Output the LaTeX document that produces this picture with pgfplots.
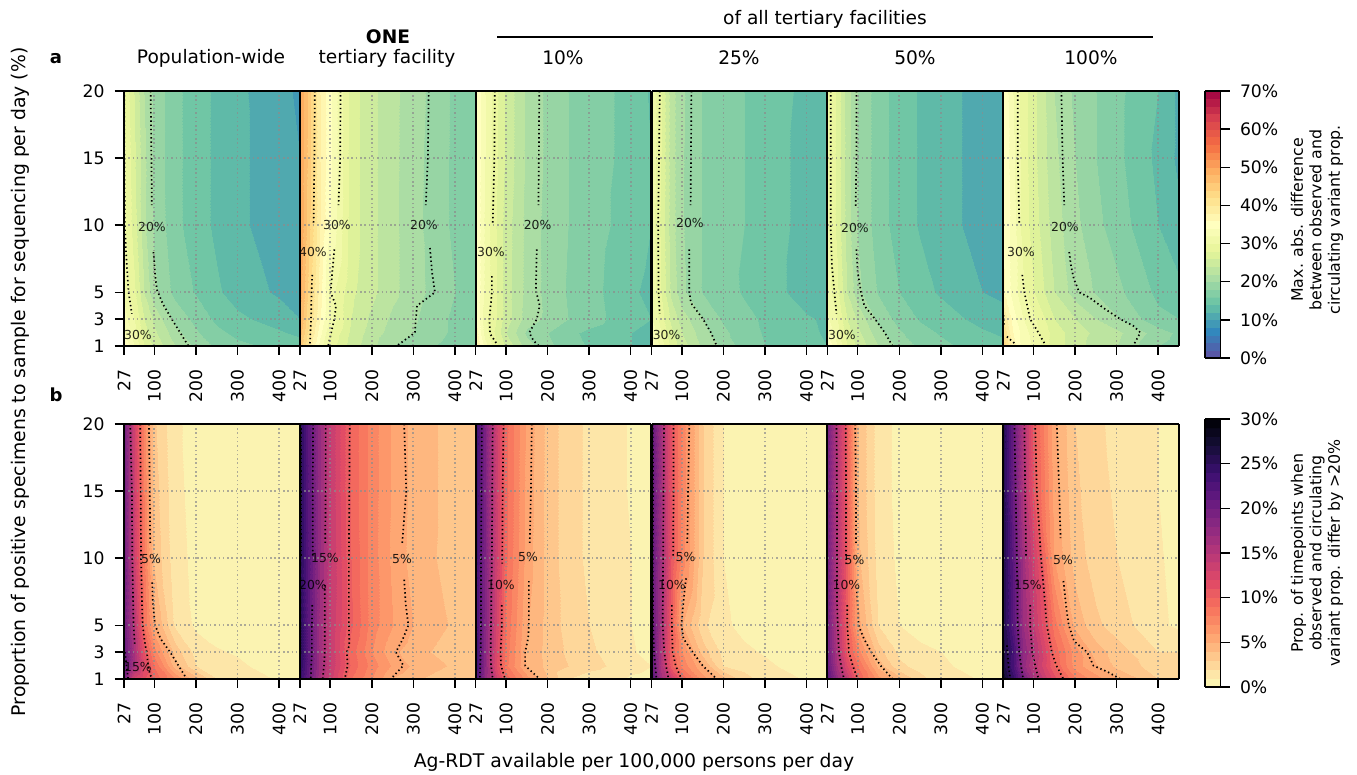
\documentclass[border=0pt]{standalone}
\usepackage{fontspec}
\setmainfont{DejaVu Sans}
\usepackage{pgfplots}
\usepackage{pgfplotstable}
\pgfplotsset{compat=1.18}
\pgfplotsset{colormap={spec}{
rgb255(0pt)=(88,87,166);rgb255(99pt)=(88,87,166);rgb255(100pt)=(75,103,174);rgb255(199pt)=(75,103,174);rgb255(200pt)=(63,120,181);rgb255(299pt)=(63,120,181);rgb255(300pt)=(50,136,189);rgb255(399pt)=(50,136,189);rgb255(400pt)=(65,153,182);rgb255(499pt)=(65,153,182);rgb255(500pt)=(80,169,175);rgb255(599pt)=(80,169,175);rgb255(600pt)=(95,186,168);rgb255(699pt)=(95,186,168);rgb255(700pt)=(112,198,165);rgb255(799pt)=(112,198,165);rgb255(800pt)=(132,206,165);rgb255(899pt)=(132,206,165);rgb255(900pt)=(151,213,164);rgb255(999pt)=(151,213,164);rgb255(1000pt)=(171,221,164);rgb255(1099pt)=(171,221,164);rgb255(1100pt)=(188,228,160);rgb255(1199pt)=(188,228,160);rgb255(1200pt)=(205,235,157);rgb255(1299pt)=(205,235,157);rgb255(1300pt)=(222,242,154);rgb255(1399pt)=(222,242,154);rgb255(1400pt)=(234,246,158);rgb255(1499pt)=(234,246,158);rgb255(1500pt)=(241,249,169);rgb255(1599pt)=(241,249,169);rgb255(1600pt)=(248,252,180);rgb255(1699pt)=(248,252,180);rgb255(1700pt)=(255,255,191);rgb255(1799pt)=(255,255,191);rgb255(1800pt)=(255,246,176);rgb255(1899pt)=(255,246,176);rgb255(1900pt)=(254,237,161);rgb255(1999pt)=(254,237,161);rgb255(2000pt)=(254,228,146);rgb255(2099pt)=(254,228,146);rgb255(2100pt)=(254,217,133);rgb255(2199pt)=(254,217,133);rgb255(2200pt)=(254,203,121);rgb255(2299pt)=(254,203,121);rgb255(2300pt)=(253,188,109);rgb255(2399pt)=(253,188,109);rgb255(2400pt)=(253,174,97);rgb255(2499pt)=(253,174,97);rgb255(2500pt)=(250,155,88);rgb255(2599pt)=(250,155,88);rgb255(2600pt)=(248,137,79);rgb255(2699pt)=(248,137,79);rgb255(2700pt)=(245,118,71);rgb255(2799pt)=(245,118,71);rgb255(2800pt)=(240,102,69);rgb255(2899pt)=(240,102,69);rgb255(2900pt)=(231,89,72);rgb255(2999pt)=(231,89,72);rgb255(3000pt)=(222,76,76);rgb255(3099pt)=(222,76,76);rgb255(3100pt)=(213,62,79);rgb255(3199pt)=(213,62,79);rgb255(3200pt)=(197,45,75);rgb255(3299pt)=(197,45,75);rgb255(3300pt)=(182,27,71);rgb255(3399pt)=(182,27,71);rgb255(3400pt)=(166,10,68);rgb255(3500pt)=(166,10,68)}}
\pgfplotsset{colormap={mag}{
rgb255(0pt)=(251,243,177);rgb255(99pt)=(251,243,177);rgb255(100pt)=(253,230,168);rgb255(199pt)=(253,230,168);rgb255(200pt)=(254,215,154);rgb255(299pt)=(254,215,154);rgb255(300pt)=(254,199,140);rgb255(399pt)=(254,199,140);rgb255(400pt)=(254,183,127);rgb255(499pt)=(254,183,127);rgb255(500pt)=(254,167,115);rgb255(599pt)=(254,167,115);rgb255(600pt)=(253,151,106);rgb255(699pt)=(253,151,106);rgb255(700pt)=(250,135,100);rgb255(799pt)=(250,135,100);rgb255(800pt)=(248,120,95);rgb255(899pt)=(248,120,95);rgb255(900pt)=(243,105,94);rgb255(999pt)=(243,105,94);rgb255(1000pt)=(234,92,98);rgb255(1099pt)=(234,92,98);rgb255(1100pt)=(226,76,101);rgb255(1199pt)=(226,76,101);rgb255(1200pt)=(215,70,107);rgb255(1299pt)=(215,70,107);rgb255(1300pt)=(202,64,112);rgb255(1399pt)=(202,64,112);rgb255(1400pt)=(189,58,118);rgb255(1499pt)=(189,58,118);rgb255(1500pt)=(176,53,122);rgb255(1599pt)=(176,53,122);rgb255(1600pt)=(161,48,125);rgb255(1699pt)=(161,48,125);rgb255(1700pt)=(147,43,128);rgb255(1799pt)=(147,43,128);rgb255(1800pt)=(133,39,129);rgb255(1899pt)=(133,39,129);rgb255(1900pt)=(120,33,128);rgb255(1999pt)=(120,33,128);rgb255(2000pt)=(107,28,128);rgb255(2099pt)=(107,28,128);rgb255(2100pt)=(93,24,125);rgb255(2199pt)=(93,24,125);rgb255(2200pt)=(80,20,120);rgb255(2299pt)=(80,20,120);rgb255(2300pt)=(66,17,115);rgb255(2399pt)=(66,17,115);rgb255(2400pt)=(52,15,102);rgb255(2499pt)=(52,15,102);rgb255(2500pt)=(40,14,83);rgb255(2599pt)=(40,14,83);rgb255(2600pt)=(27,14,64);rgb255(2699pt)=(27,14,64);rgb255(2700pt)=(17,12,46);rgb255(2799pt)=(17,12,46);rgb255(2800pt)=(10,7,29);rgb255(2899pt)=(10,7,29);rgb255(2900pt)=(3,2,12);rgb255(3000pt)=(3,2,12)}}
\pgfplotstableread{
x y a1 a2 a3 a4 a5 a6 b1 b2 b3 b4 b5 b6
27 1 36 46 38 35 36 44 20 24.5 23 22 22 28
50 1 32 39 33 31 32 37 12.5 20.5 17.5 16.5 17.5 24.5
75 1 28 33 28.5 27.5 28 33 11 16 13.5 13.5 14 20
100 1 25.5 29 25.5 25 25.5 31.5 9.8 13.5 9.7 10 10 16
150 1 22 25 21 21.5 22 27 7 9 6.5 6.5 6.5 11.5
200 1 19.5 22.5 18.5 19.5 19.5 25 4.5 7 4 4.5 4.5 8.2
250 1 17.5 20 16.8 17 17.5 23 2 4.9 2 2.5 2.3 6.5
300 1 16.5 19 15.8 16 16.5 22 1.5 4.2 1.4 1.5 1.5 5.2
400 1 15.5 17 14 14.5 15 18 0.9 3.2 0.8 0.9 0.9 3
450 1 15 16.5 13.5 14 14.5 17 0.2 3 0.6 0.3 0.2 2.5
27 2 34 47 37 33.5 34 42 21 25 24 21 21 26.5
50 2 31 41 31 30 31 36 16 21 18 15.5 16 23
75 2 27 34.5 27.5 26.5 27 33 12 16.5 12 10.5 12 17.5
100 2 24.5 30 24 24 24.5 31 9 14 8.3 7.7 9 14.7
150 2 20.8 25.5 19.5 20.8 20.8 27 4.5 9.7 4.8 5 4.7 10
200 2 18.3 23 18 18.5 18.3 25 2 7.5 3.7 2 2.2 6.5
250 2 16.5 21 16.5 16.8 16.7 23.5 1.5 5.8 3 1.6 1.7 5.1
300 2 15.5 20 15.5 15.8 15.8 22.5 1.2 4.8 2.4 1.2 1.2 3.7
400 2 14.3 17.5 14 14.3 14.3 19 0.5 3.8 1.4 0.5 0.5 2.5
450 2 13.5 16.5 13.5 13.8 13.7 17.5 0.2 3.1 1 0.2 0.2 2.5
27 3 33 48 36 32 32.5 40 21 25.5 24 21 20.5 26.5
50 3 30 42 30.5 29 30 35 16 21 18 15.5 15.5 23.5
75 3 26 36 28 25.5 26 32 11 16.5 12.5 10 10.5 18
100 3 23.5 31.5 25 23 23.5 30.3 7.5 14 8.5 7 7.5 15.3
150 3 19.5 26 21 20 19.5 26 3.6 9.5 4.8 3.5 3.5 9.7
200 3 17.3 23.5 19.5 17.7 17.2 24 1.6 7 3.6 1.7 1.8 6.5
250 3 15.5 21.5 18 16.5 15.8 22 1.1 5.2 2.8 1.2 1.3 4.5
300 3 14.5 20.3 17 15.7 15 20.2 0.9 4.5 2.2 0.9 1 3.5
400 3 13 17.5 14.5 14.2 13.3 16.5 0.3 3.3 1.1 0.3 0.3 2
450 3 12 16.5 14 13.7 12.8 16 0.2 3 0.7 0.2 0.2 2
27 5 31.5 49 36 31.5 31 36.5 20 25.5 23.5 21 20 26
50 5 28.5 43 31.5 28 28.5 33 15 21 18.5 16 15 22
75 5 24 37 28 23.5 24 30.5 9 16.5 13 10.3 10 17
100 5 20.5 31 25 20.5 20.5 28 5.3 14 8.8 5.1 5.4 14
150 5 17.3 26.5 21.3 17.8 17.8 24 1.8 10.2 5.1 2.2 2 8.5
200 5 15.8 24.5 19.3 16.7 16 21 0.8 7.5 3.6 1.2 1 4.7
250 5 14.3 22.5 17.8 15.8 14.7 19.8 0.5 6 2.6 0.7 0.5 3.2
300 5 13 20.8 16.8 15 13.7 18.5 0.4 5 2 0.5 0.4 2.5
400 5 11.7 18 14.3 13 12 15.5 0.3 3.8 1 0.3 0.2 1.2
450 5 11 17 13.5 12.8 11.5 14.5 0.2 3.4 0.6 0.2 0.2 0.8
27 10 30.5 50 36 31 30.3 36 20 25.5 23.5 21 20 26
50 10 27 44.5 31.5 27.5 27.5 33 13.5 21.5 19 16.5 15 21.5
75 10 22.5 38 28 23 23 29 8.2 17 13.5 11 10.2 16.5
100 10 19.7 34 25 20.2 19.8 27 3.8 14.2 9.2 7.6 4.3 13
150 10 16.5 27 21.3 17.8 17 23 1.4 10 5.5 3 1.6 6
200 10 15 24.5 19.3 16.5 15 20.5 0.7 7.5 3.6 1 0.8 3.5
250 10 13.5 22.5 18 16 13.8 18.5 0.4 5.7 2.4 0.6 0.4 2.5
300 10 12.4 20.7 17 15 12.8 17 0.3 4.6 1.8 0.4 0.3 2
400 10 11 17.5 15 13.3 11.2 14 0.2 3.5 1 0.3 0.2 1.1
450 10 10.4 16.5 14 12.8 10.6 12.5 0.2 3.2 0.6 0.2 0.2 0.7
27 15 30.5 50 36 31.5 30.3 36 20 25.5 24 21 20 26
50 15 26.5 45 32 28 27.5 32.5 13.5 21.5 19 16.5 15 20.5
75 15 22.5 38 28.5 23 23 29 8 17 13.5 11 10.2 15.5
100 15 19.5 34.5 25.5 20.2 19.8 26.5 3.5 14 9.3 7.7 4 10.7
150 15 16.5 27 21.5 17.8 17 22.5 1.3 9.8 5.6 3 1.5 5.6
200 15 15 24.5 19.5 16.5 15 20 0.6 7.5 3.6 1 0.7 3.2
250 15 13.5 22.5 18 16 13.8 18 0.4 5.8 2.4 0.6 0.4 2.4
300 15 12.4 20.8 17 15 12.8 16.5 0.3 4.7 1.8 0.4 0.3 1.8
400 15 11 17.5 15.3 13.3 11.2 13.5 0.2 3.5 0.9 0.3 0.2 1
450 15 10 16.5 14 12.8 10.6 11.5 0.2 3.2 0.6 0.2 0.2 0.6
27 20 30 50 36 31.5 30.3 36 20 25.5 24 21 20 26
50 20 26 45 32 28 27.5 32 13 21.5 19 16.5 15 20.5
75 20 22 38 28.5 23 23 29 7.6 17 13.5 11 10.2 15.5
100 20 19.5 34.5 25.5 20.3 19.8 26.5 3.2 14 9.3 7.7 4 10.4
150 20 16.5 27 21.5 17.8 17 22 1.2 9.8 5.7 3 1.5 5.3
200 20 15 24.5 19.5 16.5 15 19.5 0.6 7.5 3.6 1 0.7 3
250 20 13.5 22.5 18 16 13.8 18 0.4 5.8 2.4 0.6 0.4 2.2
300 20 12.4 21 17 15 12.8 16.5 0.3 4.7 1.8 0.4 0.3 1.7
400 20 10.8 17.5 15.3 13.5 11.2 14 0.2 3.5 0.9 0.3 0.2 1
450 20 9.5 16.5 13.7 13 10.4 11.5 0.2 3.2 0.6 0.2 0.2 0.6
}\griddata
\newcommand{\tickfont}{\fontsize{8.6}{10}\selectfont}
\newcommand{\labelfont}{\fontsize{9.4}{11}\selectfont}
\pgfplotsset{
 panel/.style={scale only axis,width=87.92pt,height=127.5pt,anchor=south west,view={0}{90},
  xmin=27,xmax=450,ymin=1,ymax=20,zmin=0,zmax=100,
  xtick={27,100,200,300,400},xticklabels={27,100,200,300,400},
  ytick={1,3,5,10,15,20},yticklabels={},
  grid=major,grid style={black!45,opacity=.7,line width=.85pt,dash pattern=on .75pt off 1.4pt},
  axis on top,axis line style={black,line width=1pt},
  tick align=outside,xtick pos=left,ytick pos=left,major tick length=4.5pt,
  tick style={black,line width=.75pt},y tick style={draw=none},
  tick label style={font=\tickfont},
  x tick label style={rotate=90,anchor=east,inner sep=1pt,xshift=-6pt},
  y tick label style={inner sep=1pt,xshift=-4pt},
 },
 first/.style={yticklabels={1,3,5,10,15,20},y tick style={draw=black,line width=.75pt}},
 pa/.style={panel,colormap name=spec,point meta min=0,point meta max=70},
 pb/.style={panel,colormap name=mag,point meta min=0,point meta max=30},
 cnt/.style={black,line width=.85pt,dash pattern=on .7pt off 1.4pt},
 cbar/.style={scale only axis,width=7.8pt,anchor=south west,view={0}{90},xmin=0,xmax=1,xtick=\empty,
  axis line style={black,line width=.75pt},tick align=outside,ytick pos=right,yticklabel pos=right,
  major tick length=4.5pt,tick style={black,line width=.75pt},tick label style={font=\tickfont,inner sep=1pt,xshift=4pt}},
}
\newcommand{\surfc}[1]{\addplot3[surf,shader=interp,mesh/cols=10,mesh/ordering=x varies] table[x=x,y=y,z=#1]{\griddata};}
\newcommand{\lab}[3]{\node[font=\fontsize{6.2}{7}\selectfont,inner sep=0pt,text=black,opacity=.85] at (#1,#2) {#3};}
\begin{document}
\begin{tikzpicture}
\path[use as bounding box] (0,0) rectangle (678.5pt,387.5pt);
% row a
\begin{axis}[pa,first,at={(62pt,214.5pt)}]
\surfc{a1}
\addplot[cnt] coordinates {(27.5,20)(28,15)(29,10)(32,8)(38,5)(46,3.4)};
\addplot[cnt] coordinates {(91,20)(93,15)(94,11.5)};
\addplot[cnt] coordinates {(98,8)(102,6.3)(106,5.2)(121,4.1)(142,3)(182,1)};
\end{axis}
\begin{axis}[pa,at={(149.92pt,214.5pt)}]
\surfc{a2}
\addplot[cnt] coordinates {(63,20)(62,15)(60,10)};
\addplot[cnt] coordinates {(57,6.3)(55,5)(54,3)(51,1)};
\addplot[cnt] coordinates {(125,20)(124,15)(120,11.5)};
\addplot[cnt] coordinates {(110,8.2)(105,6.5)(101,5)(114,4)(110,3)(95,1)};
\addplot[cnt] coordinates {(337,20)(335,15)(330,11.5)};
\addplot[cnt] coordinates {(340,8.3)(345,6.5)(352,5)(309,4)(306,3)(304,2)(260,1)};
\end{axis}
\begin{axis}[pa,at={(237.83pt,214.5pt)}]
\surfc{a3}
\addplot[cnt] coordinates {(73,20)(72,15)(68,10)};
\addplot[cnt] coordinates {(66,6.2)(66,5)(60,3)(62,1.9)(77,1.2)};
\addplot[cnt] coordinates {(180,20)(179,15)(178,11.5)};
\addplot[cnt] coordinates {(174,8.2)(172,5.5)(173,5)(181,4)(174,3)(156,2)(166,1.4)(179,1)};
\end{axis}
\begin{axis}[pa,at={(325.75pt,214.5pt)}]
\surfc{a4}
\addplot[cnt] coordinates {(47,20)(45,15)(43,10)(44,5)(47,3.4)};
\addplot[cnt] coordinates {(123,20)(122,15)(121,11.5)};
\addplot[cnt] coordinates {(118,8.2)(118,5)(122,4.2)(151,3)(170,2)(184,1)};
\end{axis}
\begin{axis}[pa,at={(413.67pt,214.5pt)}]
\surfc{a5}
\addplot[cnt] coordinates {(35,20)(35,15)(35,10)(38,7)(44,5)(49,3.4)};
\addplot[cnt] coordinates {(97,20)(97,15)(95,11.3)};
\addplot[cnt] coordinates {(97,8.2)(100,6.5)(108,5)(116,4)(142,3)(165,2)(184,1)};
\end{axis}
\begin{axis}[pa,at={(501.58pt,214.5pt)}]
\surfc{a6}
\addplot[cnt] coordinates {(62,20)(62,15)(66,10)};
\addplot[cnt] coordinates {(73,6.3)(78,5)(85,4)(92,3)(108,2.2)(130,1)};
\addplot[cnt] coordinates {(28,3.3)(29,2.6)};
\addplot[cnt] coordinates {(36,1.7)(58,1.1)};
\addplot[cnt] coordinates {(167,20)(170,15)(174,11.5)};
\addplot[cnt] coordinates {(186,8)(190,7)(197,6)(210,5)(235,4.6)(270,3.8)(309,3)(340,2.5)(357,2)(343,1.2)};
\end{axis}
% row b
\begin{axis}[pb,first,at={(62pt,48pt)}]
\surfc{b1}
\addplot[cnt] coordinates {(42,20)(46,15)(47,10)(50,5)(53,3.5)};
\addplot[cnt] coordinates {(29,3)(37,1)};
\addplot[cnt] coordinates {(66,20)(67,15)(68,10)(70,7)(72,5)(78,3.5)(82,3)(85,2)(90,1.3)(96,1)};
\addplot[cnt] coordinates {(87,20)(89,15)(90,11)};
\addplot[cnt] coordinates {(95,8.2)(96,7)(100,5.5)(102,5)(115,4)(138,3)(158,2)(178,1)};
\end{axis}
\begin{axis}[pb,at={(149.92pt,48pt)}]
\surfc{b2}
\addplot[cnt] coordinates {(29,20)(29,15)(29,10)};
\addplot[cnt] coordinates {(59,20)(58,15)(58,10)};
\addplot[cnt] coordinates {(57,6.5)(56,5)(56,3)(53,1)};
\addplot[cnt] coordinates {(89,20)(89,15)(88,11)};
\addplot[cnt] coordinates {(87,8)(87,5)(87,3)(85,2)(82,1)};
\addplot[cnt] coordinates {(147,20)(146,15)(145,10)(145,5)(146,3.5)(140,3)(142,2)(135,1)};
\addplot[cnt] coordinates {(278,20)(283,15)(273,11)};
\addplot[cnt] coordinates {(278,8.4)(282,6.5)(288,5)(275,4)(258,3)(276,2)(246,1)};
\end{axis}
\begin{axis}[pb,at={(237.83pt,48pt)}]
\surfc{b3}
\addplot[cnt] coordinates {(42,20)(41,15)(40,10)(40,5)(39,3)(37,1)};
\addplot[cnt] coordinates {(68,20)(67,15)(66,10)(65,8)(64,5)(63,3)(64,2)(68,1)};
\addplot[cnt] coordinates {(94,20)(92,15)(91,9.6)};
\addplot[cnt] coordinates {(90,6.5)(90,5)(87,3)(88,2)(98,1)};
\addplot[cnt] coordinates {(162,20)(160,15)(157,11)};
\addplot[cnt] coordinates {(155,8.3)(155,5)(153,4)(146,3)(146,2)(160,1.6)(181,1)};
\end{axis}
\begin{axis}[pb,at={(325.75pt,48pt)}]
\surfc{b4}
\addplot[cnt] coordinates {(30,20)(31,15)(30,10)(31,5)(33,3)(39,1)};
\addplot[cnt] coordinates {(57,20)(55,10)(54,5)(58,3)(62,2)(68,1)};
\addplot[cnt] coordinates {(80,20)(80,15)(79,10)};
\addplot[cnt] coordinates {(76,6.5)(76,5)(78,3)(85,2)(99,1)};
\addplot[cnt] coordinates {(118,20)(115,15)(113,11)};
\addplot[cnt] coordinates {(110,8.5)(103,6.5)(99,5)(104,4)(126,3)(150,2)(184,1)};
\end{axis}
\begin{axis}[pb,at={(413.67pt,48pt)}]
\surfc{b5}
\addplot[cnt] coordinates {(49,20)(50,15)(50,10)(50,7)(52,5)(55,3)(60,2)(67,1)};
\addplot[cnt] coordinates {(71,20)(72,15)(72,10)(73,9.5)};
\addplot[cnt] coordinates {(75,6.5)(75,5)(79,3)(88,2)(100,1)};
\addplot[cnt] coordinates {(94,20)(96,15)(96,11)};
\addplot[cnt] coordinates {(98,7.5)(101,6)(102,5)(115,4)(133,3)(155,2)(184,1)};
\end{axis}
\begin{axis}[pb,at={(501.58pt,48pt)}]
\surfc{b6}
\addplot[cnt] coordinates {(36,3.5)(40,2)(44,1)};
\addplot[cnt] coordinates {(54,20)(57,15)(60,10)(61,8)(62,5)(66,3)(70,2)(75,1)};
\addplot[cnt] coordinates {(78,20)(80,15)(82,10)};
\addplot[cnt] coordinates {(92,6.5)(92,5)(97,3)(104,2)(112,1)};
\addplot[cnt] coordinates {(104,20)(108,15)(118,10)(124,8)(132,5)(144,3)(155,2)(172,1)};
\addplot[cnt] coordinates {(156,20)(162,15)(165,11.5)};
\addplot[cnt] coordinates {(172,8.3)(180,6)(185,5)(198,3.8)(229,3)(244,2)(280,1.5)(309,1)};
\end{axis}
% colourbars
\begin{axis}[cbar,height=133.5pt,at={(602.5pt,208.5pt)},ymin=0,ymax=70,colormap name=spec,point meta min=0,point meta max=70,
  ytick={0,10,20,30,40,50,60,70},yticklabels={0\%,10\%,20\%,30\%,40\%,50\%,60\%,70\%}]
\addplot3[surf,shader=interp,mesh/cols=2,mesh/ordering=x varies] coordinates {(0,0,0)(1,0,0)(0,70,70)(1,70,70)};
\end{axis}
\begin{axis}[cbar,height=134pt,at={(602.5pt,44pt)},ymin=0,ymax=30,colormap name=mag,point meta min=0,point meta max=30,
  ytick={0,5,10,15,20,25,30},yticklabels={0\%,5\%,10\%,15\%,20\%,25\%,30\%}]
\addplot3[surf,shader=interp,mesh/cols=2,mesh/ordering=x varies] coordinates {(0,0,0)(1,0,0)(0,30,30)(1,30,30)};
\end{axis}
% annotations (pixel coordinates)
\begin{scope}[shift={(0pt,387.5pt)},x=0.5pt,y=-0.5pt]
\lab{152}{227}{20\%}\lab{138}{335}{30\%}
\lab{337}{225}{30\%}\lab{424}{225}{20\%}\lab{313}{252}{40\%}
\lab{537.6}{225}{20\%}\lab{491}{252}{30\%}
\lab{690}{223}{20\%}\lab{666.6}{335}{30\%}
\lab{855}{228}{20\%}\lab{842}{335}{30\%}
\lab{1065}{227}{20\%}\lab{1021}{252}{30\%}
\lab{151}{559}{5\%}\lab{138}{667}{15\%}
\lab{325}{558}{15\%}\lab{402}{559}{5\%}\lab{313}{585}{20\%}
\lab{528}{557}{5\%}\lab{501}{585}{10\%}
\lab{685.5}{557}{5\%}\lab{672}{585}{10\%}
\lab{854.5}{560}{5\%}\lab{846.5}{585}{10\%}
\lab{1063}{559.5}{5\%}\lab{1028}{585}{15\%}
\tikzset{tt/.style={font=\fontsize{9.3}{11}\selectfont,inner sep=0pt}}
\node[tt,font=\fontsize{9}{11}\selectfont\bfseries] at (56,59) {a};
\node[tt,font=\fontsize{9}{11}\selectfont\bfseries] at (56,395) {b};
\node[tt] at (211,58) {Population-wide};
\node[tt,font=\fontsize{9.3}{11}\selectfont\bfseries] at (388,37) {ONE};
\node[tt] at (387,58) {tertiary facility};
\node[tt] at (563,58) {10\%};
\node[tt] at (739,58) {25\%};
\node[tt] at (915,58) {50\%};
\node[tt] at (1091,58) {100\%};
\node[tt] at (825,19) {of all tertiary facilities};
\draw[black,line width=1pt] (497,37.5) -- (1153,37.5);
\node[tt,rotate=90,font=\labelfont] at (20,382) {Proportion of positive specimens to sample for sequencing per day (\%)};
\node[tt,font=\labelfont] at (634,762) {Ag-RDT available per 100,000 persons per day};
\node[rotate=90,align=center,inner sep=0pt,font=\fontsize{7.9}{9.3}\selectfont] at (1317,220) {Max. abs. difference\\between observed and\\circulating variant prop.};
\node[rotate=90,align=center,inner sep=0pt,font=\fontsize{7.9}{9.3}\selectfont] at (1317,553) {Prop. of timepoints when\\observed and circulating\\variant prop. differ by >20\%};
\end{scope}
\end{tikzpicture}
\end{document}
